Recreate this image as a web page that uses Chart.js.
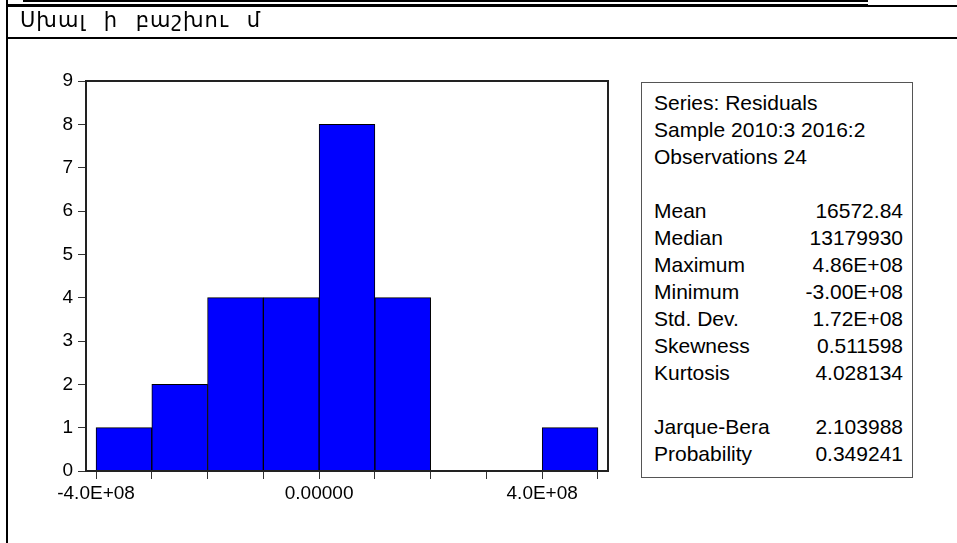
<!DOCTYPE html>
<html>
<head>
<meta charset="utf-8">
<script src="https://cdn.jsdelivr.net/npm/chart.js@4"></script>
<style>
    body { margin: 0; background: #fff; }
    #wrap { position: relative; width: 957px; height: 543px; overflow: hidden; }
    #histChart { position: absolute; left: 0; top: 0; }
    .rule { position: absolute; background: #000; }
    #title {
        position: absolute; left: 20px; top: 8px;
        font-family: "DejaVu Sans", sans-serif;
        font-size: 21px; letter-spacing: 1px; word-spacing: 10px; color: #000; white-space: pre;
    }
    #stats {
        position: absolute; left: 641px; top: 82px; width: 270px; height: 388px;
        border: 1px solid #555; background: #fff;
        font-family: "Liberation Sans", Arial, sans-serif; font-size: 21px; color: #000;
        padding-top: 6px; box-sizing: content-box;
    }
    .row { height: 27px; line-height: 27px; position: relative; }
    .row .lab { position: absolute; left: 12px; }
    .row .val { position: absolute; right: 9px; }
</style>
</head>
<body>
<div id="wrap">
    <canvas id="histChart" width="957" height="543"></canvas>
    <div class="rule" style="left:6px;top:0;width:2px;height:543px"></div>
    <div class="rule" style="left:23px;top:0;width:845px;height:2px"></div>
    <div class="rule" style="left:7px;top:4px;width:861px;height:3px"></div>
    <div class="rule" style="left:868px;top:5px;width:89px;height:2px"></div>
    <div class="rule" style="left:7px;top:37px;width:950px;height:2px"></div>
    <div id="title">Սխալ ի բաշխու մ</div>
    <div id="stats"></div>
</div>
<script>
// histogram bins (centres) and counts
let binCenters = [-3.5e8, -2.5e8, -1.5e8, -0.5e8, 0.5e8, 1.5e8, 2.5e8, 3.5e8, 4.5e8];
let binCounts = [1, 2, 4, 4, 8, 4, 0, 0, 1];
let xTickValues = [-4e8, -3e8, -2e8, -1e8, 0, 1e8, 2e8, 3e8, 4e8, 5e8];
let xTickLabels = {'-400000000': '-4.0E+08', '0': '0.00000', '400000000': '4.0E+08'};
let yTickValues = [0, 1, 2, 3, 4, 5, 6, 7, 8, 9];

// summary statistics box
let headerLines = ['Series: Residuals', 'Sample 2010:3 2016:2', 'Observations 24'];
let statNames = ['Mean', 'Median', 'Maximum', 'Minimum', 'Std. Dev.', 'Skewness', 'Kurtosis'];
let statValues = ['16572.84', '13179930', '4.86E+08', '-3.00E+08', '1.72E+08', '0.511598', '4.028134'];
let testNames = ['Jarque-Bera', 'Probability'];
let testValues = ['2.103988', '0.349241'];

function addRow(box, label, value) {
    let row = document.createElement('div');
    row.className = 'row';
    let lab = document.createElement('span');
    lab.className = 'lab';
    lab.textContent = label;
    row.appendChild(lab);
    if (value !== undefined) {
        let val = document.createElement('span');
        val.className = 'val';
        val.textContent = value;
        row.appendChild(val);
    }
    box.appendChild(row);
}

function buildStats() {
    let box = document.getElementById('stats');
    headerLines.forEach(line => addRow(box, line));
    addRow(box, '');
    statNames.forEach((name, i) => addRow(box, name, statValues[i]));
    addRow(box, '');
    testNames.forEach((name, i) => addRow(box, name, testValues[i]));
}

const frameBox = {
    id: 'frameBox',
    afterDraw(chart) {
        let a = chart.chartArea;
        let ctx = chart.ctx;
        ctx.save();
        ctx.strokeStyle = '#222';
        ctx.lineWidth = 2;
        ctx.strokeRect(a.left, a.top, a.right - a.left, a.bottom - a.top);
        ctx.restore();
    }
};

const tickFont = {family: '"Liberation Sans", Arial, sans-serif', size: 19};

new Chart(document.getElementById('histChart'), {
    type: 'bar',
    data: {
        datasets: [{
            data: binCenters.map((c, i) => ({x: c, y: binCounts[i]})),
            backgroundColor: '#0000FF',
            borderColor: '#000',
            borderWidth: 1,
            barPercentage: 1,
            categoryPercentage: 1
        }]
    },
    options: {
        responsive: false,
        animation: false,
        devicePixelRatio: 1,
        layout: {padding: {left: 0, top: 81, right: 349, bottom: 32}},
        plugins: {legend: {display: false}, tooltip: {enabled: false}},
        scales: {
            x: {
                type: 'linear',
                offset: false,
                min: -4.18e8,
                max: 5.18e8,
                afterBuildTicks: s => { s.ticks = xTickValues.map(v => ({value: v})); },
                afterFit: s => { s.height = 40; },
                grid: {offset: false, drawOnChartArea: false, drawTicks: true, tickLength: 8, color: '#333', lineWidth: 1},
                border: {display: true, color: '#222', width: 2},
                ticks: {
                    autoSkip: false, maxRotation: 0, color: '#000', font: tickFont, padding: 3,
                    callback: v => xTickLabels[String(v)] || ''
                }
            },
            y: {
                min: 0,
                max: 9,
                afterBuildTicks: s => { s.ticks = yTickValues.map(v => ({value: v})); },
                afterFit: s => { s.width = 86; },
                grid: {drawOnChartArea: false, drawTicks: true, tickLength: 8, color: '#333', lineWidth: 1},
                border: {display: true, color: '#222', width: 2},
                ticks: {color: '#000', font: tickFont, padding: 5}
            }
        }
    },
    plugins: [frameBox]
});

buildStats();
</script>
</body>
</html>
